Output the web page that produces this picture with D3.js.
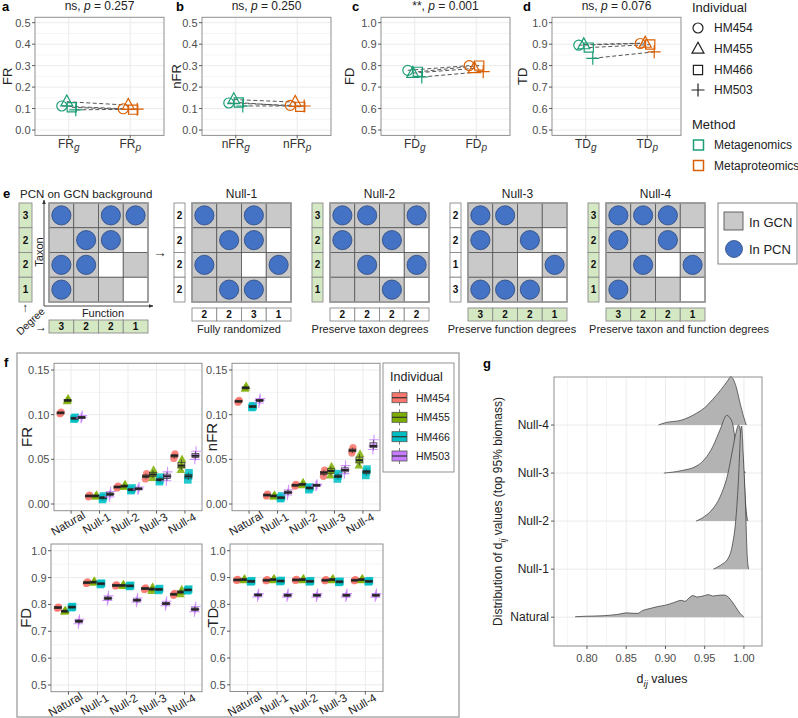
<!DOCTYPE html>
<html>
<head>
<meta charset="utf-8">
<script src="https://cdn.jsdelivr.net/npm/d3@7"></script>
<style>
  body { margin: 0; background: #fff; }
  svg { display: block; font-family: "Liberation Sans", Arial, sans-serif; }
</style>
</head>
<body>
<svg id="fig" width="798" height="718"></svg>
<script>
// ---------- data ----------
const individuals = ['HM454', 'HM455', 'HM466', 'HM503'];
const methods = ['Metagenomics', 'Metaproteomics'];

// a-d : g = metagenomics, p = metaproteomics
const frG = [0.112, 0.132, 0.106, 0.094];
const frP = [0.099, 0.116, 0.095, 0.097];
const nfrG = [0.126, 0.142, 0.128, 0.112];
const nfrP = [0.115, 0.130, 0.108, 0.112];
const fdG = [0.778, 0.765, 0.771, 0.747];
const fdP = [0.800, 0.787, 0.800, 0.772];
const tdG = [0.895, 0.898, 0.884, 0.834];
const tdP = [0.903, 0.905, 0.898, 0.864];
const pValues = ['0.257', '0.250', '0.001', '0.076'];
const pStars = ['ns', 'ns', '**', 'ns'];
const lowTicks = [0, 0.1, 0.2, 0.3, 0.4, 0.5];
const highTicks = [0.5, 0.6, 0.7, 0.8, 0.9, 1.0];

// e : GCN background and PCN networks (rows = taxa, cols = functions)
const gcnMask = [[1,1,1,1],[1,1,1,0],[1,1,0,1],[1,1,1,0]];
const pcnObserved = [[1,0,1,1],[0,1,1,0],[1,1,0,0],[1,0,0,0]];
const pcnNull1 = [[1,0,1,0],[0,1,1,0],[1,0,0,1],[0,1,1,0]];
const pcnNull2 = [[1,1,0,1],[1,0,1,0],[0,1,0,1],[0,0,1,0]];
const pcnNull3 = [[1,1,0,0],[1,0,1,0],[0,0,0,1],[1,1,1,0]];
const pcnNull4 = [[1,1,1,0],[1,0,1,0],[0,1,0,1],[1,0,0,0]];
const netTitles = ['PCN on GCN background', 'Null-1', 'Null-2', 'Null-3', 'Null-4'];
const netNotes = ['', 'Fully randomized', 'Preserve taxon degrees', 'Preserve function degrees', 'Preserve taxon and function degrees'];
const keepTaxon = [true, false, true, false, true];
const keepFunction = [true, false, false, true, true];

// f : [category][individual]
const models = ['Natural', 'Null-1', 'Null-2', 'Null-3', 'Null-4'];
const frMed = [[0.102,0.116,0.096,0.097],[0.009,0.009,0.007,0.011],[0.019,0.020,0.016,0.017],[0.031,0.033,0.027,0.031],[0.054,0.043,0.031,0.054]];
const frLo  = [[0.101,0.115,0.095,0.096],[0.008,0.008,0.005,0.008],[0.018,0.019,0.015,0.016],[0.028,0.029,0.025,0.026],[0.051,0.038,0.027,0.050]];
const frHi  = [[0.103,0.118,0.097,0.099],[0.010,0.010,0.009,0.014],[0.020,0.022,0.018,0.019],[0.034,0.038,0.030,0.036],[0.056,0.050,0.035,0.059]];
const nfrMed = [[0.115,0.130,0.109,0.116],[0.010,0.009,0.007,0.013],[0.021,0.022,0.018,0.021],[0.035,0.037,0.031,0.038],[0.060,0.049,0.036,0.065]];
const nfrLo  = [[0.114,0.129,0.108,0.113],[0.009,0.008,0.006,0.010],[0.020,0.021,0.016,0.020],[0.031,0.032,0.028,0.034],[0.057,0.043,0.032,0.061]];
const nfrHi  = [[0.116,0.132,0.110,0.118],[0.011,0.010,0.009,0.016],[0.022,0.024,0.019,0.022],[0.038,0.042,0.034,0.043],[0.063,0.056,0.039,0.072]];
const fdMed = [[0.788,0.775,0.790,0.738],[0.881,0.883,0.877,0.823],[0.871,0.871,0.869,0.816],[0.859,0.857,0.856,0.803],[0.838,0.846,0.854,0.782]];
const fdLo  = [[0.786,0.773,0.788,0.728],[0.878,0.881,0.874,0.815],[0.869,0.869,0.867,0.808],[0.855,0.850,0.852,0.795],[0.834,0.838,0.851,0.773]];
const fdHi  = [[0.790,0.778,0.792,0.745],[0.884,0.887,0.879,0.832],[0.873,0.874,0.871,0.824],[0.862,0.865,0.859,0.812],[0.841,0.855,0.857,0.792]];
const tdMed = [[0.891,0.892,0.886,0.835],[0.890,0.892,0.887,0.834],[0.891,0.892,0.886,0.834],[0.890,0.892,0.884,0.834],[0.890,0.892,0.886,0.834]];
const tdLo  = [[0.889,0.890,0.884,0.828],[0.888,0.890,0.885,0.827],[0.889,0.890,0.884,0.827],[0.888,0.890,0.882,0.827],[0.888,0.890,0.884,0.827]];
const tdHi  = [[0.893,0.895,0.888,0.840],[0.892,0.896,0.889,0.840],[0.893,0.896,0.888,0.840],[0.892,0.896,0.886,0.840],[0.892,0.896,0.888,0.840]];
const frTicks = [0, 0.05, 0.10, 0.15];
const fdTicks = [0.5, 0.6, 0.7, 0.8, 0.9, 1.0];

const ridgeRows = ['Natural', 'Null-1', 'Null-2', 'Null-3', 'Null-4'];
const ridgeNatural = [[0.785,0.01],[0.80,0.02],[0.82,0.03],[0.84,0.06],[0.85,0.09],[0.86,0.08],[0.865,0.08],[0.87,0.13],[0.88,0.18],[0.89,0.22],[0.90,0.25],[0.91,0.30],[0.92,0.35],[0.925,0.33],[0.93,0.40],[0.935,0.45],[0.94,0.42],[0.95,0.45],[0.955,0.47],[0.96,0.44],[0.97,0.46],[0.975,0.46],[0.98,0.42],[0.985,0.32],[0.99,0.20],[0.995,0.08],[1.0,0]];
const ridgeNull1 = [[0.961,0],[0.97,0.08],[0.98,0.23],[0.985,0.48],[0.99,1.1],[0.993,1.85],[0.996,2.9],[0.997,2.98],[0.999,2.42],[1.002,1.31],[1.004,0.33],[1.006,0]];
const ridgeNull2 = [[0.939,0],[0.95,0.1],[0.96,0.25],[0.97,0.52],[0.98,1.02],[0.985,1.44],[0.99,1.85],[0.993,2.0],[0.997,1.65],[1.0,0.94],[1.003,0.19],[1.005,0]];
const ridgeNull3 = [[0.898,0],[0.92,0.05],[0.94,0.15],[0.95,0.29],[0.96,0.54],[0.97,0.92],[0.978,1.2],[0.985,1.06],[0.99,0.56],[0.995,0.15],[1.0,0.04],[1.002,0]];
const ridgeNull4 = [[0.891,0],[0.90,0.05],[0.92,0.1],[0.94,0.25],[0.95,0.36],[0.96,0.53],[0.97,0.72],[0.98,0.94],[0.983,1.01],[0.99,0.8],[0.995,0.46],[1.0,0.15],[1.003,0]];
const gTicks = [0.80, 0.85, 0.90, 0.95, 1.00];

// ---------- drawing ----------
const svg = d3.select('#fig');
const GRID = '#ebebeb', FRAME = '#8f8f8f', TXT = '#4d4d4d';
const methodColor = ['#1b9e77', '#d95f02'];
const indColor = ['#F8766D', '#7CAE00', '#00BFC4', '#C77CFF'];

function shape(k, s) {
  if (k === 0) return `M${-s},0A${s},${s} 0 1,0 ${s},0A${s},${s} 0 1,0 ${-s},0Z`;
  if (k === 1) { const h = s * 1.12; return `M0,${-h}L${s},${h * 0.62}L${-s},${h * 0.62}Z`; }
  if (k === 2) return `M${-s},${-s}H${s}V${s}H${-s}Z`;
  return `M${-s},0H${s}M0,${-s}V${s}`;
}

function text(g, x, y, s, size, opt = {}) {
  return g.append('text').attr('x', x).attr('y', y).text(s)
    .attr('font-size', size).attr('fill', opt.fill || '#222')
    .attr('text-anchor', opt.anchor || 'start')
    .attr('font-weight', opt.bold ? 'bold' : null);
}

function hGrid(g, x0, x1, y, ticks) {
  const minor = ticks.slice(1).map((t, i) => (t + ticks[i]) / 2);
  g.selectAll(null).data(minor).join('line')
    .attr('x1', x0).attr('x2', x1).attr('y1', d => y(d)).attr('y2', d => y(d))
    .attr('stroke', GRID).attr('stroke-width', 0.55);
  g.selectAll(null).data(ticks).join('line')
    .attr('x1', x0).attr('x2', x1).attr('y1', d => y(d)).attr('y2', d => y(d))
    .attr('stroke', GRID).attr('stroke-width', 1);
}

function yTicks(g, x0, y, ticks, fmt, size) {
  g.selectAll(null).data(ticks).join('line')
    .attr('x1', x0 - 3).attr('x2', x0).attr('y1', d => y(d)).attr('y2', d => y(d))
    .attr('stroke', '#333').attr('stroke-width', 0.8);
  g.selectAll(null).data(ticks).join('text')
    .attr('x', x0 - 4.5).attr('y', d => y(d) + size * 0.36).attr('text-anchor', 'end')
    .attr('font-size', size).attr('fill', TXT).text(d => d3.format(fmt)(d));
}

function frame(g, x0, x1, y0, y1) {
  g.append('rect').attr('x', x0).attr('y', y0).attr('width', x1 - x0).attr('height', y1 - y0)
    .attr('fill', 'none').attr('stroke', FRAME).attr('stroke-width', 1);
}

// ----- panels a-d -----
const pairData = [[frG, frP, 'FR', lowTicks], [nfrG, nfrP, 'nFR', lowTicks], [fdG, fdP, 'FD', highTicks], [tdG, tdP, 'TD', highTicks]];
const pairLeft = [35, 202, 381, 552];
const letterX = [2, 176, 352, 523];
const ylabX = [12, 181, 354, 527];
const jit = [-7, -2, 3, 7];

pairData.forEach(([gv, pv, lab, ticks], k) => {
  const g = svg.append('g');
  const L = pairLeft[k], R = L + 129, T = 17.3, B = 135.4;
  const x = d3.scalePoint().domain(['g', 'p']).range([L, R]).padding(0.55);
  const pad = (ticks[ticks.length - 1] - ticks[0]) * 0.05;
  const y = d3.scaleLinear().domain([ticks[0] - pad, ticks[ticks.length - 1] + pad]).range([B, T]);
  hGrid(g, L, R, y, ticks);
  g.selectAll(null).data(x.domain()).join('line')
    .attr('x1', d => x(d)).attr('x2', d => x(d)).attr('y1', T).attr('y2', B)
    .attr('stroke', GRID).attr('stroke-width', 1);
  frame(g, L, R, T, B);
  yTicks(g, L, y, ticks, '.1f', 11);
  // x ticks + labels with subscript
  x.domain().forEach(c => {
    g.append('line').attr('x1', x(c)).attr('x2', x(c)).attr('y1', B).attr('y2', B + 3).attr('stroke', '#333').attr('stroke-width', 0.8);
    const t = g.append('text').attr('x', x(c)).attr('y', B + 12.5).attr('text-anchor', 'middle').attr('font-size', 12).attr('fill', '#333');
    t.append('tspan').text(lab);
    t.append('tspan').attr('dy', 3).attr('font-size', 10).attr('font-style', 'italic').text(c);
  });
  // title
  const tt = g.append('text').attr('x', (L + R) / 2).attr('y', 10).attr('text-anchor', 'middle').attr('font-size', 12).attr('fill', '#222');
  tt.append('tspan').text(pStars[k] + ', ');
  tt.append('tspan').attr('font-style', 'italic').text('p');
  tt.append('tspan').text(' = ' + pValues[k]);
  text(g, letterX[k], 11, 'abcd'[k], 13, { bold: true, fill: '#000' });
  g.append('text').attr('transform', `translate(${ylabX[k]},${(T + B) / 2}) rotate(-90)`)
    .attr('text-anchor', 'middle').attr('font-size', 13).attr('fill', '#222').text(lab);
  // paired lines
  individuals.forEach((ind, i) => {
    g.append('line').attr('x1', x('g') + jit[i]).attr('y1', y(gv[i])).attr('x2', x('p') + jit[i]).attr('y2', y(pv[i]))
      .attr('stroke', '#555').attr('stroke-width', 1).attr('stroke-dasharray', '4,2.5');
  });
  [gv, pv].forEach((vals, m) => {
    vals.forEach((v, i) => {
      const s = [5, 6, 4.6, 6.5][i];
      g.append('path').attr('d', shape(i, s))
        .attr('transform', `translate(${x(['g', 'p'][m]) + jit[i]},${y(v)})`)
        .attr('fill', 'none').attr('stroke', methodColor[m]).attr('stroke-width', 1.2);
    });
  });
});

// legend a-d
{
  const g = svg.append('g');
  text(g, 692, 12, 'Individual', 13);
  individuals.forEach((ind, i) => {
    const cy = [28, 49, 70, 90][i];
    g.append('path').attr('d', shape(i, [5, 6, 4.6, 6.5][i])).attr('transform', `translate(698,${cy})`)
      .attr('fill', 'none').attr('stroke', '#222').attr('stroke-width', 1.2);
    text(g, 714, cy + 4.3, ind, 12);
  });
  text(g, 692, 129, 'Method', 13);
  methods.forEach((m, i) => {
    const cy = 145 + i * 20.5;
    g.append('rect').attr('x', 693.5).attr('y', cy - 5).attr('width', 10).attr('height', 10)
      .attr('fill', 'none').attr('stroke', methodColor[i]).attr('stroke-width', 1.5);
    text(g, 714, cy + 4.3, m, 12);
  });
}

// ----- panel e -----
const pcnNets = [pcnObserved, pcnNull1, pcnNull2, pcnNull3, pcnNull4];
const netX = [49, 192, 330, 468, 606];
const noteX = [0, 239, 370, 512, 679];
const GREEN = '#d5e8c4';
{
  const defs = svg.append('defs');
  defs.append('marker').attr('id', 'arr').attr('viewBox', '0 0 10 10').attr('refX', 9).attr('refY', 5)
    .attr('markerWidth', 5).attr('markerHeight', 5).attr('orient', 'auto')
    .append('path').attr('d', 'M0,1L10,5L0,9Z').attr('fill', '#333');
}
pcnNets.forEach((net, k) => {
  const g = svg.append('g');
  const gx = netX[k], gy = 203, size = 99;
  const xb = d3.scaleBand().domain(d3.range(4)).range([gx, gx + size]);
  const yb = d3.scaleBand().domain(d3.range(4)).range([gy, gy + size]);
  const cells = [];
  net.forEach((row, r) => row.forEach((v, j) => cells.push({ r, j, pcn: v, gcn: gcnMask[r][j] })));
  g.selectAll(null).data(cells).join('rect')
    .attr('x', d => xb(d.j)).attr('y', d => yb(d.r)).attr('width', xb.bandwidth()).attr('height', yb.bandwidth())
    .attr('fill', d => d.gcn ? '#c9c9c9' : '#fff').attr('stroke', '#555').attr('stroke-width', 0.8);
  g.append('rect').attr('x', gx).attr('y', gy).attr('width', size).attr('height', size)
    .attr('fill', 'none').attr('stroke', '#9a9a9a').attr('stroke-width', 1.6);
  g.selectAll(null).data(cells.filter(d => d.pcn)).join('circle')
    .attr('cx', d => xb(d.j) + xb.bandwidth() / 2).attr('cy', d => yb(d.r) + yb.bandwidth() / 2).attr('r', 9.6)
    .attr('fill', '#4472c4').attr('stroke', '#2e4a7d').attr('stroke-width', 0.8);
  const rowDeg = net.map(row => d3.sum(row));
  const colDeg = net[0].map((_, j) => d3.sum(net, row => row[j]));
  const sx = k === 0 ? 19 : gx - 18, sw = k === 0 ? 13 : 11;
  const by = k === 0 ? 320 : 308;
  rowDeg.forEach((d, r) => {
    g.append('rect').attr('x', sx).attr('y', yb(r)).attr('width', sw).attr('height', yb.bandwidth())
      .attr('fill', keepTaxon[k] ? GREEN : '#fff').attr('stroke', '#8c8c8c').attr('stroke-width', 0.9);
    text(g, sx + sw / 2, yb(r) + yb.bandwidth() / 2 + 3.6, d, 10, { anchor: 'middle', bold: true, fill: '#111' });
  });
  colDeg.forEach((d, j) => {
    g.append('rect').attr('x', xb(j)).attr('y', by).attr('width', xb.bandwidth()).attr('height', 13)
      .attr('fill', keepFunction[k] ? GREEN : '#fff').attr('stroke', '#8c8c8c').attr('stroke-width', 0.9);
    text(g, xb(j) + xb.bandwidth() / 2, by + 10.2, d, 10, { anchor: 'middle', bold: true, fill: '#111' });
  });
  if (k === 0) {
    text(g, 20, 198, netTitles[k], 11.5, { fill: '#222' });
  } else {
    text(g, gx + size / 2, 198, netTitles[k], 12, { anchor: 'middle', fill: '#222' });
    text(g, noteX[k], 333, netNotes[k], 11, { anchor: 'middle', fill: '#222' });
  }
});
{
  const g = svg.append('g');
  text(g, 3, 198, 'e', 13, { bold: true, fill: '#000' });
  g.append('line').attr('x1', 44).attr('y1', 306).attr('x2', 44).attr('y2', 200).attr('stroke', '#333').attr('stroke-width', 0.9).attr('marker-end', 'url(#arr)');
  g.append('line').attr('x1', 44).attr('y1', 306).attr('x2', 153).attr('y2', 306).attr('stroke', '#333').attr('stroke-width', 0.9).attr('marker-end', 'url(#arr)');
  g.append('text').attr('transform', 'translate(43,252) rotate(-90)').attr('text-anchor', 'middle').attr('font-size', 11).attr('fill', '#222').text('Taxon');
  text(g, 103, 317, 'Function', 11, { anchor: 'middle' });
  g.append('text').attr('transform', 'translate(33,324) rotate(-43)').attr('text-anchor', 'middle').attr('font-size', 10.5).attr('fill', '#222').text('Degree');
  text(g, 25, 312, '↑', 12, { anchor: 'middle' });
  text(g, 41, 331, '→', 12, { anchor: 'middle' });
  text(g, 160, 257, '→', 14, { anchor: 'middle', fill: '#333' });
  // legend
  g.append('rect').attr('x', 718).attr('y', 203).attr('width', 79).attr('height', 61).attr('fill', '#fff').attr('stroke', '#777').attr('stroke-width', 0.9);
  g.append('rect').attr('x', 724).attr('y', 212).attr('width', 19).attr('height', 18).attr('fill', '#c9c9c9').attr('stroke', '#555').attr('stroke-width', 0.9);
  text(g, 749, 226.5, 'In GCN', 13);
  g.append('circle').attr('cx', 734).attr('cy', 249).attr('r', 8.5).attr('fill', '#4472c4').attr('stroke', '#2e4a7d').attr('stroke-width', 0.8);
  text(g, 749, 253.5, 'In PCN', 13);
}

// ----- panel f -----
svg.append('rect').attr('x', 17).attr('y', 353).attr('width', 442).attr('height', 364)
  .attr('fill', 'none').attr('stroke', '#aaa').attr('stroke-width', 1.5);
text(svg, 4, 367, 'f', 13, { bold: true, fill: '#000' });

const boxData = [['FR', frMed, frLo, frHi, frTicks, '.2f'], ['nFR', nfrMed, nfrLo, nfrHi, frTicks, '.2f'],
                 ['FD', fdMed, fdLo, fdHi, fdTicks, '.1f'], ['TD', tdMed, tdLo, tdHi, fdTicks, '.1f']];
const boxFrames = [[54, 202, 363.3, 510.7], [232, 380, 363.3, 510.7], [51, 202, 544, 691.7], [230, 383, 544, 691.5]];
const boxYlabX = [32, 217, 31, 218];

boxData.forEach(([lab, med, lo, hi, ticks, fmt], k) => {
  const g = svg.append('g');
  const [L, R, T, B] = boxFrames[k];
  const x = d3.scalePoint().domain(models).range([L, R]).padding(0.6);
  const pad = (ticks[ticks.length - 1] - ticks[0]) * 0.05;
  const y = d3.scaleLinear().domain([ticks[0] - pad, ticks[ticks.length - 1] + pad]).range([B, T]);
  hGrid(g, L, R, y, ticks);
  g.selectAll(null).data(models).join('line')
    .attr('x1', d => x(d)).attr('x2', d => x(d)).attr('y1', T).attr('y2', B)
    .attr('stroke', GRID).attr('stroke-width', 1);
  frame(g, L, R, T, B);
  yTicks(g, L, y, ticks, fmt, 11);
  models.forEach(c => {
    g.append('line').attr('x1', x(c)).attr('x2', x(c)).attr('y1', B).attr('y2', B + 3).attr('stroke', '#333').attr('stroke-width', 0.8);
    g.append('text').attr('transform', `translate(${x(c) - 1},${B + 16}) rotate(-30)`)
      .attr('text-anchor', 'middle').attr('font-size', 11.5).attr('fill', '#222').text(c);
  });
  g.append('text').attr('transform', `translate(${boxYlabX[k]},${(T + B) / 2}) rotate(-90)`)
    .attr('text-anchor', 'middle').attr('font-size', 15).attr('fill', '#222').text(lab);
  models.forEach((c, ci) => {
    individuals.forEach((ind, i) => {
      const cx = x(c) + (i - 1.5) * 7;
      const vals = [lo[ci][i], med[ci][i], hi[ci][i]];
      const s = [3.6, 4.3, 3.8, 5][i];
      vals.forEach((v, vi) => {
        const p = g.append('path').attr('d', shape(i, s)).attr('transform', `translate(${cx + (vi - 1) * 0.6},${y(v)})`);
        if (i === 3) p.attr('fill', 'none').attr('stroke', indColor[i]).attr('stroke-width', 1.1).attr('opacity', 0.8);
        else p.attr('fill', indColor[i]).attr('opacity', 0.85);
      });
      const q1 = y(med[ci][i] - (med[ci][i] - lo[ci][i]) / 2), q3 = y(med[ci][i] + (hi[ci][i] - med[ci][i]) / 2);
      g.append('line').attr('x1', cx).attr('x2', cx).attr('y1', y(lo[ci][i])).attr('y2', y(hi[ci][i]))
        .attr('stroke', '#333').attr('stroke-width', 0.7);
      g.append('rect').attr('x', cx - 3.5).attr('y', Math.min(q3, y(med[ci][i]) - 1)).attr('width', 7)
        .attr('height', Math.max(q1 - q3, 2)).attr('fill', indColor[i]).attr('fill-opacity', 0.6)
        .attr('stroke', '#333').attr('stroke-width', 0.7);
      g.append('line').attr('x1', cx - 3.5).attr('x2', cx + 3.5).attr('y1', y(med[ci][i])).attr('y2', y(med[ci][i]))
        .attr('stroke', '#222').attr('stroke-width', 2);
    });
  });
});
// legend f
{
  const g = svg.append('g');
  g.append('rect').attr('x', 383).attr('y', 363).attr('width', 71).attr('height', 109)
    .attr('fill', '#fff').attr('stroke', '#888').attr('stroke-width', 0.9);
  text(g, 390, 381, 'Individual', 12.5);
  individuals.forEach((ind, i) => {
    const cy = [397.7, 417.3, 436.7, 456][i];
    g.append('line').attr('x1', 399.5).attr('x2', 399.5).attr('y1', cy - 8).attr('y2', cy + 8).attr('stroke', '#555').attr('stroke-width', 0.8);
    g.append('rect').attr('x', 392).attr('y', cy - 5).attr('width', 15).attr('height', 10)
      .attr('fill', indColor[i]).attr('stroke', '#555').attr('stroke-width', 0.8);
    g.append('line').attr('x1', 392).attr('x2', 407).attr('y1', cy).attr('y2', cy).attr('stroke', '#333').attr('stroke-width', 1.2);
    text(g, 416, cy + 4, ind, 10.5);
  });
}

// ----- panel g -----
{
  const g = svg.append('g');
  const L = 554, R = 762, T = 377, B = 646;
  const x = d3.scaleLinear().domain([0.758, 1.023]).range([L, R]);
  const yRow = d3.scaleLinear().domain([0.4, 6.0]).range([B, T]);
  const unit = yRow(0) - yRow(1);
  const minor = [0.775, 0.825, 0.875, 0.925, 0.975];
  g.selectAll(null).data(minor).join('line').attr('x1', d => x(d)).attr('x2', d => x(d)).attr('y1', T).attr('y2', B)
    .attr('stroke', GRID).attr('stroke-width', 0.55);
  g.selectAll(null).data(gTicks).join('line').attr('x1', d => x(d)).attr('x2', d => x(d)).attr('y1', T).attr('y2', B)
    .attr('stroke', GRID).attr('stroke-width', 1);
  g.selectAll(null).data(ridgeRows).join('line').attr('x1', L).attr('x2', R)
    .attr('y1', (d, i) => yRow(i + 1)).attr('y2', (d, i) => yRow(i + 1)).attr('stroke', GRID).attr('stroke-width', 1);
  const ridges = [ridgeNatural, ridgeNull1, ridgeNull2, ridgeNull3, ridgeNull4];
  const order = [4, 3, 2, 1, 0];
  order.forEach(i => {
    const base = yRow(i + 1);
    const area = d3.area().x(d => x(d[0])).y0(base).y1(d => base - d[1] * unit).curve(d3.curveMonotoneX);
    const line = d3.line().x(d => x(d[0])).y(d => base - d[1] * unit).curve(d3.curveMonotoneX);
    g.append('path').attr('d', area(ridges[i])).attr('fill', '#b3b3b3');
    g.append('path').attr('d', line(ridges[i])).attr('fill', 'none').attr('stroke', '#333').attr('stroke-width', 0.7);
  });
  frame(g, L, R, T, B);
  g.selectAll(null).data(gTicks).join('line').attr('x1', d => x(d)).attr('x2', d => x(d)).attr('y1', B).attr('y2', B + 3)
    .attr('stroke', '#333').attr('stroke-width', 0.8);
  g.selectAll(null).data(gTicks).join('text').attr('x', d => x(d)).attr('y', 662).attr('text-anchor', 'middle')
    .attr('font-size', 11).attr('fill', TXT).text(d => d3.format('.2f')(d));
  ridgeRows.forEach((r, i) => {
    g.append('line').attr('x1', L - 3).attr('x2', L).attr('y1', yRow(i + 1)).attr('y2', yRow(i + 1)).attr('stroke', '#333').attr('stroke-width', 0.8);
    text(g, L - 5, yRow(i + 1) + 4, r, 12, { anchor: 'end', fill: '#222' });
  });
  const xt = g.append('text').attr('x', 662).attr('y', 683).attr('text-anchor', 'middle').attr('font-size', 12.5).attr('fill', '#222');
  xt.append('tspan').text('d');
  xt.append('tspan').attr('dy', 4).attr('font-size', 9.5).attr('font-style', 'italic').text('ij');
  xt.append('tspan').attr('dy', -4).text(' values');
  const yt = g.append('text').attr('transform', `translate(502,${(T + B) / 2}) rotate(-90)`).attr('text-anchor', 'middle')
    .attr('font-size', 12).attr('fill', '#222');
  yt.append('tspan').text('Distribution of d');
  yt.append('tspan').attr('dy', 4).attr('font-size', 9).attr('font-style', 'italic').text('ij');
  yt.append('tspan').attr('dy', -4).text(' values (top 95% biomass)');
  text(g, 483, 368, 'g', 13, { bold: true, fill: '#000' });
}
</script>
</body>
</html>
